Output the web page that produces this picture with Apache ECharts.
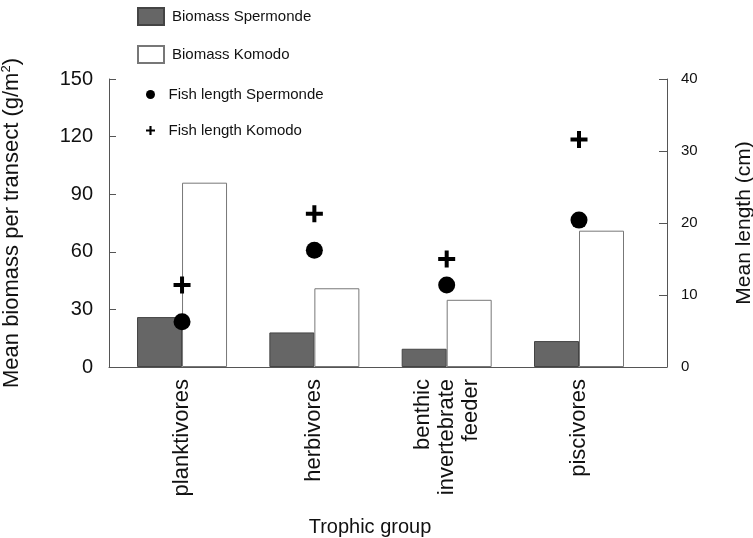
<!DOCTYPE html>
<html>
<head>
<meta charset="utf-8">
<script src="https://cdn.jsdelivr.net/npm/echarts@6/dist/echarts.min.js"></script>
<style>
  html, body { margin: 0; padding: 0; background: #fff; }
  #chart { width: 753px; height: 538px; }
</style>
</head>
<body>
<div id="chart"></div>
<script>
// trophic groups (x positions are the category index)
const groups = ['planktivores', 'herbivores', 'benthic\ninvertebrate\nfeeder', 'piscivores']
const groupIdx = [0, 1, 2, 3]

// biomass, g/m2 (left axis)
const biomassSpermonde = [26, 18, 9.5, 13.5]
const biomassKomodo = [96, 41, 35, 71]

// fish length, cm (right axis)
const lengthSpermonde = [6.3, 16.2, 11.4, 20.4]
const lengthKomodo = [11.4, 21.3, 15, 31.6]

const FONT = 'Arial, "Liberation Sans", sans-serif'
const PLUS = 'path://M6.5,0H10.5V6.5H17V10.5H10.5V17H6.5V10.5H0V6.5H6.5Z'
const axisColor = '#555'

const pair = (vals) => vals.map((v, i) => [groupIdx[i], v])

const myChart = echarts.init(document.getElementById('chart'))

myChart.setOption({
  animation: false,
  textStyle: { fontFamily: FONT, color: '#111' },
  grid: {
    left: 109,
    right: 86,
    top: 79,
    bottom: 171,
    outerBoundsMode: 'none',
    containLabel: false
  },
  legend: [
    {
      orient: 'vertical',
      left: 137,
      top: 7,
      padding: 0,
      itemWidth: 26,
      itemHeight: 17,
      itemGap: 19,
      textStyle: { fontFamily: FONT, fontSize: 15, color: '#111', padding: [0, 0, 0, 3] },
      data: [
        { name: 'Biomass Spermonde', icon: 'rect' },
        { name: 'Biomass Komodo', icon: 'rect' }
      ]
    },
    {
      orient: 'vertical',
      left: 146,
      top: 87,
      padding: 0,
      itemWidth: 26,
      itemHeight: 9,
      itemGap: 21,
      textStyle: { fontFamily: FONT, fontSize: 15, color: '#111' },
      data: [
        { name: 'Fish length Spermonde', icon: 'circle' },
        { name: 'Fish length Komodo', icon: PLUS }
      ]
    }
  ],
  xAxis: {
    type: 'value',
    min: -0.552,
    max: 3.665,
    name: 'Trophic group',
    nameLocation: 'middle',
    nameGap: 150,
    nameTextStyle: { fontFamily: FONT, fontSize: 20, color: '#111', padding: [0, 36, 0, 0] },
    axisLine: { show: true, onZero: false, lineStyle: { color: axisColor } },
    axisTick: { show: false },
    splitLine: { show: false },
    axisLabel: {
      customValues: groupIdx,
      rotate: 90,
      margin: 12,
      fontSize: 22,
      lineHeight: 24,
      color: '#111',
      fontFamily: FONT,
      formatter: (v) => groups[Math.round(v)]
    }
  },
  yAxis: [
    {
      type: 'value',
      min: 0,
      max: 150,
      interval: 30,
      name: 'Mean biomass per transect (g/m{sup|2})',
      nameLocation: 'middle',
      nameRotate: 90,
      nameGap: 86,
      nameTextStyle: {
        fontFamily: FONT,
        fontSize: 22,
        color: '#111',
        rich: { sup: { fontSize: 13, verticalAlign: 'top', padding: [0, 0, 10, 0], fontFamily: FONT, color: '#111' } }
      },
      axisLine: { show: true, onZero: false, lineStyle: { color: axisColor } },
      axisTick: { show: true, inside: true, length: 7, lineStyle: { color: axisColor } },
      splitLine: { show: false },
      axisLabel: { fontSize: 20, margin: 16, color: '#111', fontFamily: FONT }
    },
    {
      type: 'value',
      min: 0,
      max: 40,
      interval: 10,
      position: 'right',
      name: 'Mean length (cm)',
      nameLocation: 'middle',
      nameRotate: 90,
      nameGap: 67,
      nameTextStyle: { fontFamily: FONT, fontSize: 21, color: '#111' },
      axisLine: { show: true, onZero: false, lineStyle: { color: axisColor } },
      axisTick: { show: true, inside: true, length: 8, lineStyle: { color: axisColor } },
      splitLine: { show: false },
      axisLabel: { fontSize: 15, margin: 14, color: '#111', fontFamily: FONT }
    }
  ],
  series: [
    {
      name: 'Biomass Spermonde',
      type: 'bar',
      yAxisIndex: 0,
      barWidth: 45,
      barGap: '0%',
      itemStyle: { color: '#666', borderColor: '#444', borderWidth: 1 },
      data: pair(biomassSpermonde)
    },
    {
      name: 'Biomass Komodo',
      type: 'bar',
      yAxisIndex: 0,
      barWidth: 45,
      barGap: '0%',
      itemStyle: { color: '#fff', borderColor: '#777', borderWidth: 1 },
      data: pair(biomassKomodo)
    },
    {
      name: 'Fish length Spermonde',
      type: 'scatter',
      yAxisIndex: 1,
      symbol: 'circle',
      symbolSize: 17,
      z: 5,
      itemStyle: { color: '#000', opacity: 1 },
      data: pair(lengthSpermonde)
    },
    {
      name: 'Fish length Komodo',
      type: 'scatter',
      yAxisIndex: 1,
      symbol: PLUS,
      symbolSize: 17,
      z: 5,
      itemStyle: { color: '#000', opacity: 1 },
      data: pair(lengthKomodo)
    }
  ]
})
</script>
</body>
</html>
